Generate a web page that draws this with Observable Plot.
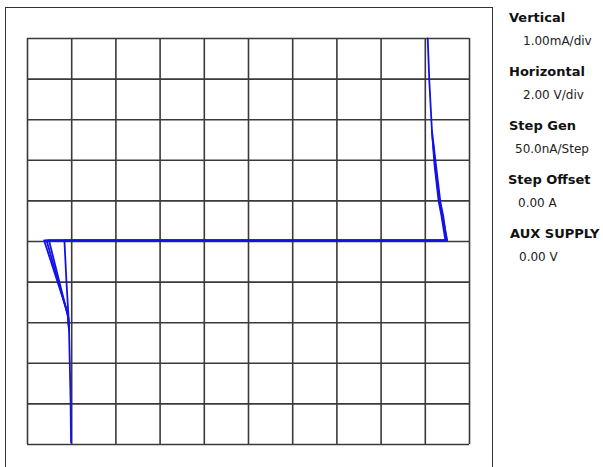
<!DOCTYPE html>
<html>
<head>
<meta charset="utf-8">
<script src="https://cdn.jsdelivr.net/npm/d3@7"></script>
<script src="https://cdn.jsdelivr.net/npm/@observablehq/plot@0.6"></script>
<style>
  html, body { margin: 0; padding: 0; background: #fff; }
  #wrap { position: relative; width: 603px; height: 467px; overflow: hidden; font-family: "DejaVu Sans", Verdana, sans-serif; }
  #frame { position: absolute; left: 5px; top: 7px; width: 488px; height: 480px; border: 1px solid #333; border-bottom: none; box-sizing: border-box; }
  #chart { position: absolute; left: 0; top: 0; }
  .hdr { position: absolute; font-weight: bold; font-size: 13px; color: #111; white-space: nowrap; }
  .val { position: absolute; font-size: 12px; color: #222; white-space: nowrap; }
</style>
</head>
<body>
<div id="wrap">
  <div id="frame"></div>
  <div id="chart"></div>
</div>
<script>
// Grid: 10 horizontal divisions at 2 V/div, 10 vertical divisions at 1 mA/div
const xTicks = [-10, -8, -6, -4, -2, 0, 2, 4, 6, 8, 10];
const yTicks = [-5, -4, -3, -2, -1, 0, 1, 2, 3, 4, 5];

// Traces (voltage in V, current in mA)
const trace1V = [8.11, 8.18, 8.30, 8.42, 8.60, 8.73, 8.91, -9.25, -8.19, -8.12, -8.05, -8.03];
const trace1I = [5.00, 3.97, 2.73, 1.87, 1.01, 0.64, 0.03, 0.03, -1.75, -2.19, -3.92, -4.95];
const trace2V = [8.30, 8.45, 8.64, 8.78, 8.99, -9.14, -8.17, -8.12];
const trace2I = [2.73, 1.85, 1.00, 0.62, 0.03, 0.03, -1.82, -2.19];
const trace3V = [8.35, 8.50, 8.68, 8.82, 8.96, -9.03, -8.14, -8.12];
const trace3I = [2.50, 1.80, 0.98, 0.60, 0.03, 0.03, -1.90, -2.19];
const trace4V = [8.90, -8.33, -8.24, -8.14, -8.12];
const trace4I = [0.03, 0.03, -0.96, -1.90, -2.19];

const headers = ["Vertical", "Horizontal", "Step Gen", "Step Offset", "AUX SUPPLY"];
const values = ["1.00mA/div", "2.00 V/div", "50.0nA/Step", "0.00 A", "0.00 V"];

const traces = [[trace1V, trace1I], [trace2V, trace2I], [trace3V, trace3I], [trace4V, trace4I]];
const pts = [];
traces.forEach(([vs, is], k) => vs.forEach((v, j) => pts.push({trace: k, v, i: is[j]})));

const plot = Plot.plot({
  width: 603,
  height: 467,
  marginLeft: 27,
  marginRight: 134,
  marginTop: 38,
  marginBottom: 23,
  x: {domain: [-10, 10], axis: null},
  y: {domain: [-5, 5], axis: null},
  style: {background: "transparent", overflow: "visible"},
  marks: [
    Plot.ruleX(xTicks, {stroke: "#3a3a3a", strokeWidth: 1.6}),
    Plot.ruleY(yTicks, {stroke: "#3a3a3a", strokeWidth: 1.6}),
    Plot.line(pts, {x: "v", y: "i", z: "trace", stroke: "#1212e8", strokeWidth: 1.8, curve: "linear"})
  ]
});
document.getElementById("chart").appendChild(plot);

// Side panel
const wrap = document.getElementById("wrap");
const hdrX = [509, 509, 509, 508, 510];
const valX = [523, 523, 515, 518, 519];
const hdrTop = [10, 64, 118, 172, 226];
headers.forEach((h, k) => {
  const d = document.createElement("div");
  d.className = "hdr"; d.textContent = h;
  d.style.left = hdrX[k] + "px"; d.style.top = hdrTop[k] + "px";
  wrap.appendChild(d);
  const e = document.createElement("div");
  e.className = "val"; e.textContent = values[k];
  e.style.left = valX[k] + "px"; e.style.top = (hdrTop[k] + 24) + "px";
  wrap.appendChild(e);
});
</script>
</body>
</html>
